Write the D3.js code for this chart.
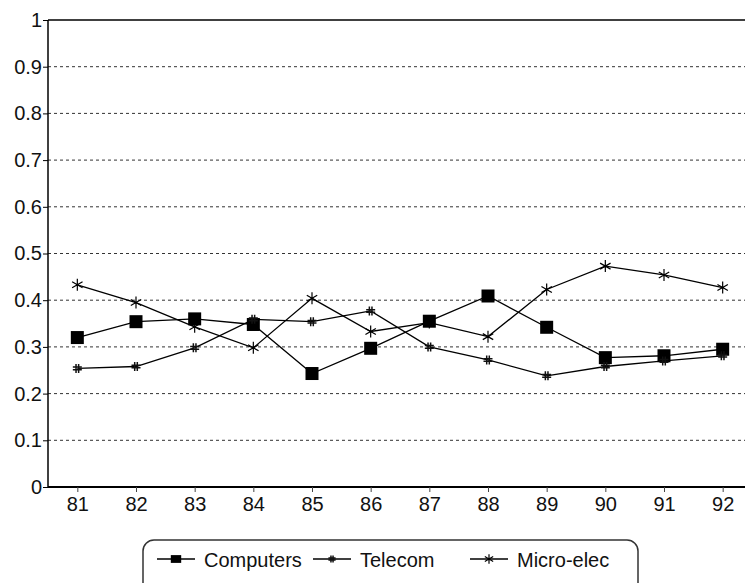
<!DOCTYPE html>
<html>
<head>
<meta charset="utf-8">
<script src="https://cdn.jsdelivr.net/npm/d3@7"></script>
<style>
  body { margin: 0; background: #fff; }
  svg { display: block; font-family: "Liberation Sans", Arial, sans-serif; }
</style>
</head>
<body>
<div id="container"></div>
<script>
/* CONSTANTS AND GLOBALS */
const width = 745;
const height = 583;
const margin = {top: 20, left: 48, bottom: 96, right: -7};

/* DATA */
const years = ["81", "82", "83", "84", "85", "86", "87", "88", "89", "90", "91", "92"];
const computers = [0.320, 0.354, 0.360, 0.348, 0.243, 0.297, 0.355, 0.409, 0.342, 0.277, 0.281, 0.295];
const telecom   = [0.254, 0.258, 0.298, 0.359, 0.354, 0.377, 0.300, 0.272, 0.238, 0.258, 0.270, 0.281];
const microElec = [0.433, 0.395, 0.343, 0.298, 0.404, 0.333, 0.352, 0.322, 0.423, 0.473, 0.454, 0.427];
const yTicks = [0, 0.1, 0.2, 0.3, 0.4, 0.5, 0.6, 0.7, 0.8, 0.9, 1];
const yTickLabels = ["0", "0.1", "0.2", "0.3", "0.4", "0.5", "0.6", "0.7", "0.8", "0.9", "1"];

const series = [
  {name: "Computers", values: computers, marker: "square", legendX: 157},
  {name: "Telecom", values: telecom, marker: "hash", legendX: 313},
  {name: "Micro-elec", values: microElec, marker: "star", legendX: 470}
];

/* SCALES */
const xScale = d3.scalePoint()
  .domain(years)
  .range([margin.left, width - margin.right])
  .padding(0.5);

const yScale = d3.scaleLinear()
  .domain([0, 1])
  .range([height - margin.bottom, margin.top]);

/* SVG */
const svg = d3.select("#container")
  .append("svg")
  .attr("width", width)
  .attr("height", height);

// gridlines
svg.append("g")
  .selectAll("line")
  .data(yTicks.filter(d => d > 0))
  .join("line")
  .attr("x1", margin.left)
  .attr("x2", width)
  .attr("y1", d => yScale(d))
  .attr("y2", d => yScale(d))
  .attr("stroke", d => d === 1 ? "#000" : "#333")
  .attr("stroke-width", d => d === 1 ? 1.5 : 1)
  .attr("stroke-dasharray", d => d === 1 ? null : "3,3");

// y axis
const yAxisGroup = svg.append("g")
  .attr("transform", `translate(${margin.left},0)`)
  .call(d3.axisLeft(yScale)
    .tickValues(yTicks)
    .tickFormat((d, i) => yTickLabels[i])
    .tickSize(5)
    .tickPadding(1));
yAxisGroup.select(".domain").attr("stroke-width", 1.5).attr("d", `M0,${yScale(1)}V${yScale(0)}`);
yAxisGroup.selectAll("text").attr("font-size", 20).attr("font-family", "Liberation Sans, Arial, sans-serif").attr("fill", "#111");

// x axis
const xAxisGroup = svg.append("g")
  .attr("transform", `translate(0,${yScale(0)})`)
  .call(d3.axisBottom(xScale).tickSize(5).tickPadding(5));
xAxisGroup.select(".domain").attr("stroke-width", 2).attr("d", `M${margin.left},0H${width}`);
xAxisGroup.selectAll(".tick line").attr("stroke", "#444");
xAxisGroup.selectAll("text").attr("font-size", 20).attr("font-family", "Liberation Sans, Arial, sans-serif").attr("fill", "#111");

/* MARKERS */
function drawMarker(g, type, x, y, k = 1) {
  if (type === "square") {
    g.append("rect")
      .attr("x", x - 6.5 * k).attr("y", y - 6.5 * k * (k < 1 ? 0.75 : 1))
      .attr("width", 13 * k).attr("height", 13 * k * (k < 1 ? 0.75 : 1))
      .attr("fill", "#000");
  } else if (type === "hash") {
    const s = 4.5 * k, o = 1.3 * k;
    const p = `M${x - o},${y - s}V${y + s}M${x + o},${y - s}V${y + s}` +
              `M${x - s},${y - o}H${x + s}M${x - s},${y + o}H${x + s}`;
    g.append("path").attr("d", p).attr("stroke", "#111").attr("stroke-width", 1.5).attr("fill", "none");
  } else {
    const s = 6 * k, d = s * 0.87;
    const p = `M${x},${y - s}V${y + s}M${x - d},${y - s / 2}L${x + d},${y + s / 2}` +
              `M${x - d},${y + s / 2}L${x + d},${y - s / 2}`;
    g.append("path").attr("d", p).attr("stroke", "#000").attr("stroke-width", 1.2).attr("fill", "none");
  }
}

/* LINES */
const line = d3.line()
  .x((d, i) => xScale(years[i]))
  .y(d => yScale(d));

series.forEach(s => {
  const g = svg.append("g");
  g.append("path")
    .attr("d", line(s.values))
    .attr("fill", "none")
    .attr("stroke", "#000")
    .attr("stroke-width", 1.3);
  s.values.forEach((v, i) => drawMarker(g, s.marker, xScale(years[i]), yScale(v)));
});

/* LEGEND */
const legend = svg.append("g");
legend.append("rect")
  .attr("x", 143).attr("y", 540)
  .attr("width", 495).attr("height", 70)
  .attr("rx", 11)
  .attr("fill", "none")
  .attr("stroke", "#333")
  .attr("stroke-width", 1.5);

series.forEach(s => {
  const ly = 559;
  legend.append("line")
    .attr("x1", s.legendX).attr("x2", s.legendX + 38)
    .attr("y1", ly).attr("y2", ly)
    .attr("stroke", "#000").attr("stroke-width", 1.3);
  drawMarker(legend, s.marker, s.legendX + 19, ly, 0.8);
  legend.append("text")
    .attr("x", s.legendX + 47)
    .attr("y", 567)
    .attr("font-size", 20)
    .attr("fill", "#111")
    .text(s.name);
});
</script>
</body>
</html>
